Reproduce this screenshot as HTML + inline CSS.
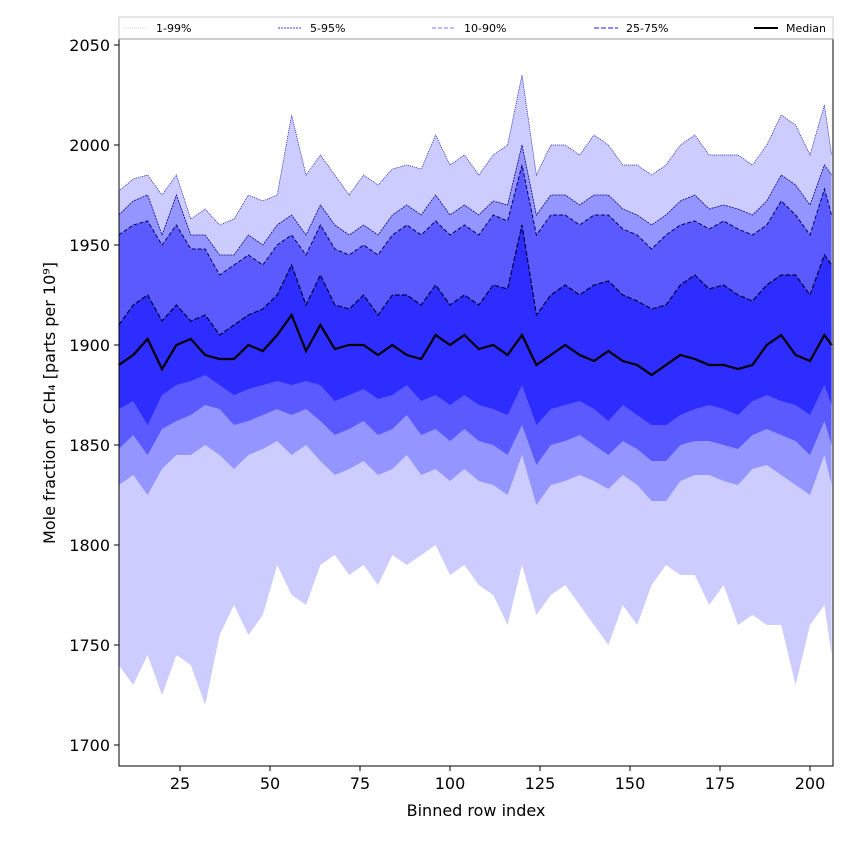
<!DOCTYPE html>
<html><head><meta charset="utf-8"><style>
body{margin:0;background:#fff}
svg text{font-family:"DejaVu Sans","Liberation Sans",sans-serif}
</style></head><body>
<svg id="chart" width="850" height="850" viewBox="0 0 850 850" xmlns="http://www.w3.org/2000/svg">
<g id="bands"></g>
<g id="lines"></g>
<rect x="119" y="17" width="714" height="749" fill="none" stroke="#000" stroke-width="1"/>
<g id="axes"></g>
<text x="476" y="816" font-size="16" text-anchor="middle">Binned row index</text>
<text transform="translate(55,403) rotate(-90)" font-size="16" text-anchor="middle">Mole fraction of CH₄ [parts per 10⁹]</text>
<g>
<rect x="119" y="17" width="714" height="22" fill="#fff" stroke="#ccc" stroke-width="1"/>
<line x1="119" y1="39" x2="833" y2="39" stroke="#999"/>
<line x1="124" y1="28" x2="148" y2="28" stroke="#ccccff" stroke-width="1" stroke-dasharray="1,1"/>
<text x="156" y="32" font-size="11">1-99%</text>
<line x1="278" y1="28" x2="302" y2="28" stroke="#0000aa" stroke-width="0.7" stroke-dasharray="2,1"/>
<text x="310" y="32" font-size="11">5-95%</text>
<line x1="432" y1="28" x2="456" y2="28" stroke="#7777ff" stroke-width="1" stroke-dasharray="4,2"/>
<text x="464" y="32" font-size="11">10-90%</text>
<line x1="594" y1="28" x2="618" y2="28" stroke="#4444ff" stroke-width="1.2" stroke-dasharray="5,2"/>
<text x="626" y="32" font-size="11">25-75%</text>
<line x1="754" y1="28" x2="778" y2="28" stroke="#000" stroke-width="2"/>
<text x="786" y="32" font-size="11">Median</text>
</g>
</svg>
<script>
const xs=[8,12,16,20,24,28,32,36,40,44,48,52,56,60,64,68,72,76,80,84,88,92,96,100,104,108,112,116,120,124,128,132,136,140,144,148,152,156,160,164,168,172,176,180,184,188,192,196,200,204,206];
const p99=[1977,1983,1985,1975,1985,1963,1968,1960,1963,1975,1972,1975,2015,1985,1995,1985,1975,1985,1980,1988,1990,1988,2005,1990,1995,1985,1995,2000,2035,1985,2000,2000,1995,2005,2000,1990,1990,1985,1990,2000,2005,1995,1995,1995,1990,2000,2015,2010,1995,2020,1995];
const p95=[1965,1972,1975,1955,1975,1955,1955,1945,1945,1955,1950,1960,1965,1955,1970,1960,1955,1960,1955,1965,1970,1965,1975,1965,1970,1965,1972,1970,2000,1965,1975,1975,1970,1975,1975,1968,1965,1960,1965,1972,1975,1968,1970,1968,1965,1972,1985,1980,1970,1990,1985];
const p90=[1955,1960,1962,1950,1960,1948,1948,1935,1940,1945,1940,1950,1955,1945,1960,1948,1945,1950,1945,1955,1960,1955,1962,1955,1960,1955,1965,1962,1990,1955,1965,1965,1960,1965,1965,1958,1955,1948,1955,1960,1962,1958,1962,1958,1955,1960,1972,1965,1955,1978,1965];
const p75=[1910,1920,1925,1912,1920,1912,1915,1905,1910,1915,1918,1925,1940,1920,1935,1920,1918,1925,1915,1925,1925,1920,1930,1920,1925,1920,1930,1928,1960,1915,1925,1930,1925,1930,1932,1925,1922,1918,1920,1930,1935,1928,1930,1925,1922,1930,1935,1935,1925,1945,1940];
const median=[1890,1895,1903,1888,1900,1903,1895,1893,1893,1900,1897,1905,1915,1897,1910,1898,1900,1900,1895,1900,1895,1893,1905,1900,1905,1898,1900,1895,1905,1890,1895,1900,1895,1892,1897,1892,1890,1885,1890,1895,1893,1890,1890,1888,1890,1900,1905,1895,1892,1905,1900];
const p25=[1868,1872,1860,1875,1880,1882,1885,1880,1875,1878,1880,1882,1880,1882,1880,1872,1875,1878,1873,1875,1880,1872,1875,1870,1875,1870,1868,1865,1880,1860,1868,1870,1872,1868,1862,1870,1865,1860,1860,1865,1868,1870,1868,1865,1872,1875,1872,1870,1865,1880,1870];
const p10=[1848,1855,1845,1858,1862,1865,1870,1868,1860,1862,1865,1868,1865,1868,1862,1855,1858,1862,1855,1858,1865,1855,1858,1852,1858,1852,1850,1845,1860,1840,1850,1852,1855,1850,1845,1852,1848,1842,1842,1850,1852,1852,1850,1848,1855,1858,1855,1852,1845,1862,1850];
const p5=[1830,1835,1825,1838,1845,1845,1850,1845,1838,1845,1848,1852,1845,1850,1842,1835,1838,1842,1835,1838,1845,1835,1838,1832,1838,1832,1830,1825,1845,1820,1830,1832,1835,1832,1828,1835,1830,1822,1822,1832,1835,1835,1832,1830,1838,1840,1835,1830,1825,1845,1830];
const p1=[1740,1730,1745,1725,1745,1740,1720,1755,1770,1755,1765,1790,1775,1770,1790,1795,1785,1790,1780,1795,1790,1795,1800,1785,1790,1780,1775,1760,1790,1765,1775,1780,1770,1760,1750,1770,1760,1780,1790,1785,1785,1770,1780,1760,1765,1760,1760,1730,1760,1770,1745];
const xTicks=[25,50,75,100,125,150,175,200];
const yTicks=[1700,1750,1800,1850,1900,1950,2000,2050];

const NS="http://www.w3.org/2000/svg";
const X=v=>180+(v-25)*3.6;
const Y=v=>45+(2050-v)*2;
const bands=document.getElementById('bands'),lines=document.getElementById('lines'),axes=document.getElementById('axes');
function bandPath(lo,hi){
  let d=xs.map((x,i)=>(i?'L':'M')+X(x).toFixed(1)+','+Y(hi[i]).toFixed(1)).join('');
  for(let i=xs.length-1;i>=0;i--)d+='L'+X(xs[i]).toFixed(1)+','+Y(lo[i]).toFixed(1);
  return d+'Z';
}
function linePath(a){return xs.map((x,i)=>(i?'L':'M')+X(x).toFixed(1)+','+Y(a[i]).toFixed(1)).join('');}
const bandDefs=[[p1,p99,'#ccccff','band-1-99'],[p5,p95,'#9595ff','band-5-95'],[p10,p90,'#5a5aff','band-10-90'],[p25,p75,'#2d2dff','band-25-75']];
bandDefs.forEach(b=>{
  const p=document.createElementNS(NS,'path');
  p.setAttribute('d',bandPath(b[0],b[1]));p.setAttribute('fill',b[2]);
  
  
  bands.appendChild(p);
});
const lineDefs=[[p99,'#0000aa','1,1',0.7,'line-p99'],[p95,'#000088','2,1',0.8,'line-p95'],[p90,'#000066','4,2',1,'line-p90'],[p75,'#000044','5,2',1.2,'line-p75'],[median,'#000','',2.2,'line-median']];
lineDefs.forEach(l=>{
  const p=document.createElementNS(NS,'path');
  p.setAttribute('d',linePath(l[0]));p.setAttribute('fill','none');p.setAttribute('stroke',l[1]);
  p.setAttribute('stroke-width',l[3]);if(l[2])p.setAttribute('stroke-dasharray',l[2]);
  
  
  lines.appendChild(p);
});
xTicks.forEach(t=>{
  const l=document.createElementNS(NS,'line');
  l.setAttribute('x1',X(t));l.setAttribute('x2',X(t));l.setAttribute('y1',766);l.setAttribute('y2',771);l.setAttribute('stroke','#000');
  
  
  axes.appendChild(l);
  const tx=document.createElementNS(NS,'text');
  tx.setAttribute('x',X(t));tx.setAttribute('y',789);tx.setAttribute('font-size','16');tx.setAttribute('text-anchor','middle');tx.textContent=t;
  
  
  axes.appendChild(tx);
});
yTicks.forEach(t=>{
  const l=document.createElementNS(NS,'line');
  l.setAttribute('x1',114);l.setAttribute('x2',119);l.setAttribute('y1',Y(t));l.setAttribute('y2',Y(t));l.setAttribute('stroke','#000');
  
  
  axes.appendChild(l);
  const tx=document.createElementNS(NS,'text');
  tx.setAttribute('x',110);tx.setAttribute('y',Y(t)+6);tx.setAttribute('font-size','16');tx.setAttribute('text-anchor','end');tx.textContent=t;
  
  
  axes.appendChild(tx);
});
</script>
</body></html>
